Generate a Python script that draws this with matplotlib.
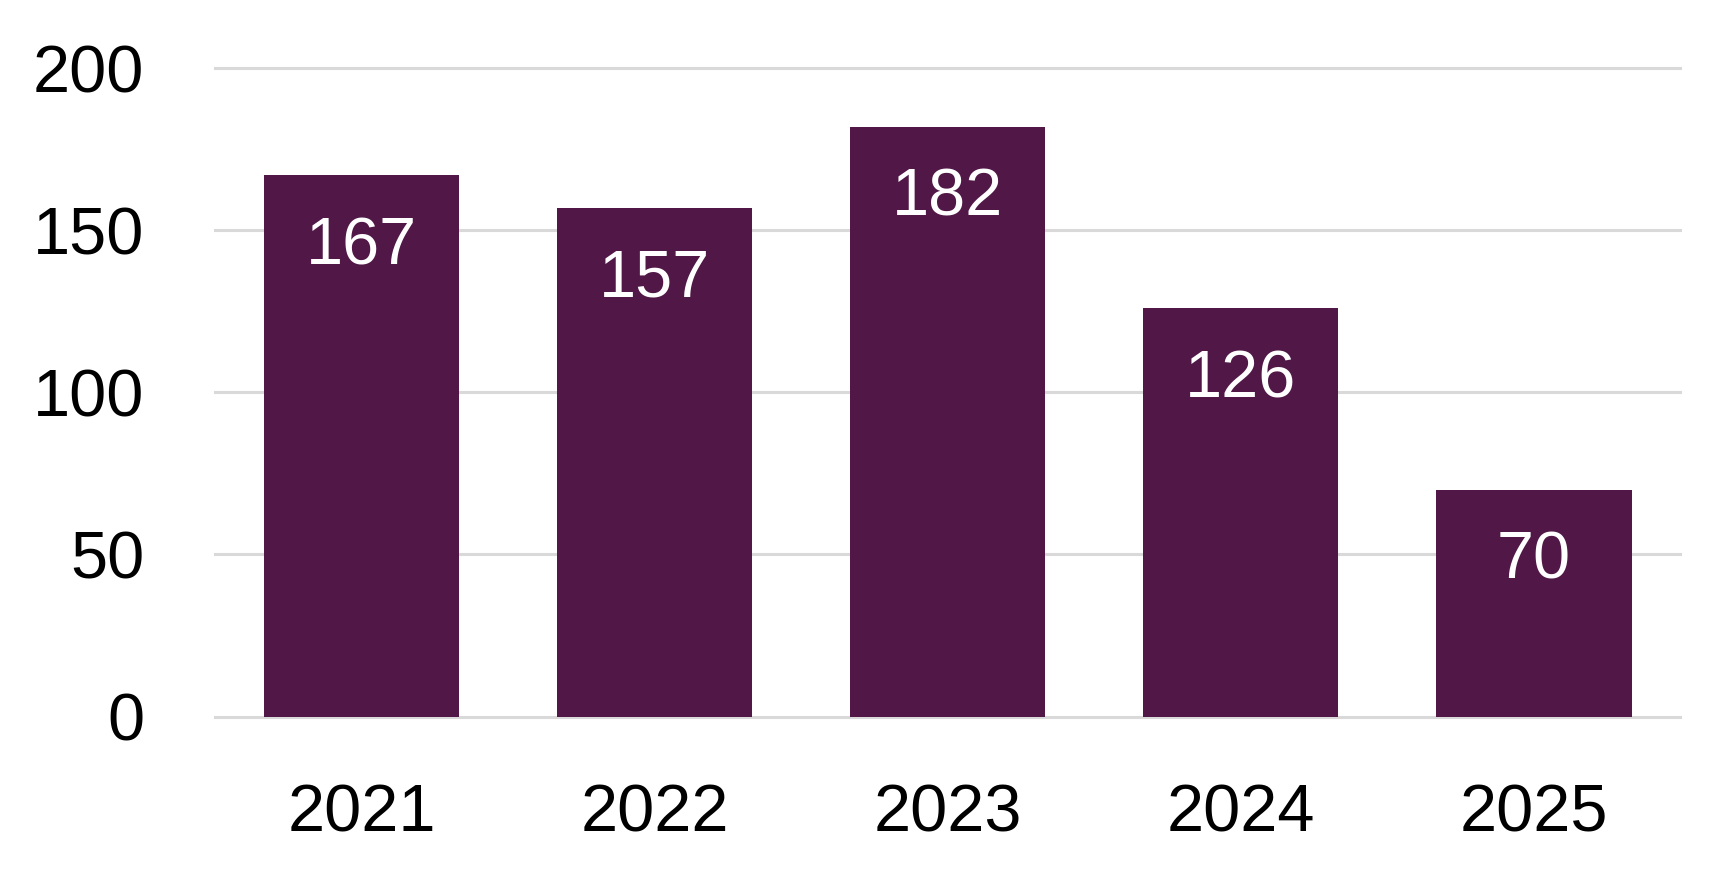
#importa as bibliotecas.
import matplotlib
matplotlib.use("Agg")
import matplotlib.pyplot as plt

#dados do gráfico.
anos = ["2021", "2022", "2023", "2024", "2025"]
valores = [167, 157, 182, 126, 70]
ticks_y = [0, 50, 100, 150, 200]

cor_barra = "#501747"
cor_grade = "#d9d9d9"

plt.rcParams["font.family"] = ["Liberation Sans", "DejaVu Sans"]

fig = plt.figure(figsize=(17.33, 8.83), dpi=100)
ax = fig.add_axes([0.1241, 0.1885, 0.8455, 0.7342])

#barras.
posicoes = list(range(len(anos)))
barras = ax.bar(posicoes, valores, width=0.667, color=cor_barra, zorder=3)

#rótulos dentro das barras, perto do topo.
for x, v in zip(posicoes, valores):
    ax.annotate(str(v), xy=(x, v), xytext=(0, -52), textcoords="offset points",
                ha="center", va="center", color="white", fontsize=48, zorder=4)

ax.set_xlim(-0.5, len(anos) - 0.5)
ax.set_ylim(0, 200)
ax.set_xticks(posicoes)
ax.set_xticklabels(anos)
ax.set_yticks(ticks_y)

#grade horizontal cinza, sem bordas.
ax.yaxis.grid(True, color=cor_grade, linewidth=2.2, zorder=0)
for linha in ax.get_ygridlines():
    linha.set_clip_on(False)
for lado in ax.spines.values():
    lado.set_visible(False)

ax.tick_params(axis="both", length=0, labelsize=48, colors="black")
ax.tick_params(axis="y", pad=51)
ax.tick_params(axis="x", pad=48)

fig.savefig("out.png", dpi=100)
